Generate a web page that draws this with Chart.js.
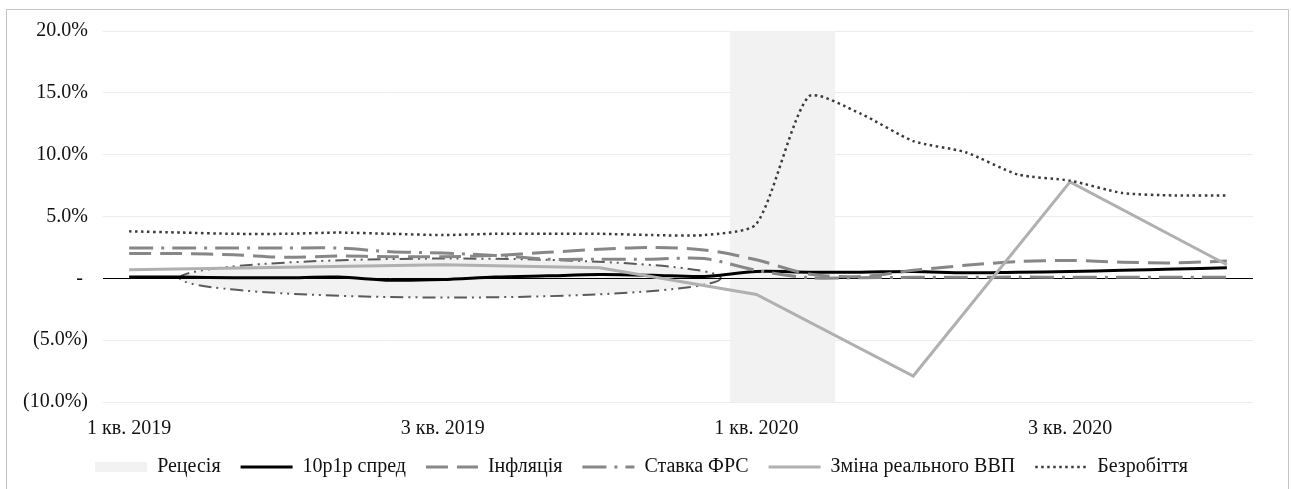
<!DOCTYPE html>
<html>
<head>
<meta charset="utf-8">
<script src="https://cdn.jsdelivr.net/npm/chart.js@4.4.1/dist/chart.umd.min.js"></script>
<style>
  html, body { margin: 0; padding: 0; background: #fff; overflow: hidden; }
  #frame { position: absolute; left: 6px; top: 9px; width: 1283px; height: 520px;
           border: 1px solid #c4c4c4; box-sizing: border-box; }
  #wrap { position: absolute; left: 0; top: 0; width: 1291px; height: 489px; }
</style>
</head>
<body>
<div id="frame"></div>
<div id="wrap"><canvas id="c" width="1291" height="489"></canvas></div>
<script>
// Monthly periods on the horizontal axis
const months = [
  '01.2019', '02.2019', '03.2019', '04.2019', '05.2019', '06.2019',
  '07.2019', '08.2019', '09.2019', '10.2019', '11.2019', '12.2019',
  '01.2020', '02.2020', '03.2020', '04.2020', '05.2020', '06.2020',
  '07.2020', '08.2020', '09.2020', '10.2020'
];
// Axis labels, one every six months
const quarterTicks = ['1 кв. 2019', '3 кв. 2019', '1 кв. 2020', '3 кв. 2020'];

// Series, % values
const spread10y1y = [0.1, 0.1, 0.05, 0.05, 0.1, -0.15, -0.1, 0.1, 0.2, 0.3, 0.25, 0.15,
                     0.55, 0.5, 0.5, 0.55, 0.45, 0.5, 0.55, 0.65, 0.75, 0.85];
const inflation   = [2.0, 2.0, 1.9, 1.7, 1.8, 1.75, 1.75, 1.85, 2.1, 2.35, 2.5, 2.3,
                     1.5, 0.35, 0.15, 0.65, 1.05, 1.35, 1.45, 1.3, 1.25, 1.4];
const fedRate     = [2.45, 2.45, 2.45, 2.45, 2.45, 2.15, 2.05, 1.85, 1.55, 1.55, 1.55, 1.6,
                     0.65, 0.05, 0.05, 0.08, 0.09, 0.1, 0.09, 0.09, 0.09, 0.09];
const unemployment = [3.8, 3.7, 3.6, 3.6, 3.7, 3.6, 3.5, 3.6, 3.6, 3.6, 3.5, 3.5,
                      4.4, 14.7, 13.3, 11.1, 10.2, 8.4, 7.9, 6.9, 6.7, 6.7];
// Real GDP change is quarterly
const gdpMonths = ['01.2019', '04.2019', '07.2019', '10.2019', '01.2020', '04.2020', '07.2020', '10.2020'];
const gdpChange = [0.7, 0.9, 1.1, 0.85, -1.3, -7.9, 7.8, 1.1];
// Recession months (shaded band)
const recessionMonths = ['01.2020', '02.2020'];

// Value axis range
const Y_MIN = -10, Y_MAX = 20, Y_STEP = 5;

// Highlighted yield-curve inversion period (oval outline), in axis units
const inversionOval = { fromIndex: 0.97, toIndex: 11.32, low: -1.55, high: 1.6 };

const FONT = "'Liberation Serif', 'Times New Roman', serif";

const recessionData = months.map(m => recessionMonths.includes(m) ? [Y_MIN, Y_MAX] : null);
const gdpData = months.map(m => {
  const i = gdpMonths.indexOf(m);
  return i >= 0 ? gdpChange[i] : null;
});

function pctLabel(v) {
  if (v === 0) return '- ';
  if (v > 0) return v.toFixed(1) + '%';
  return '(' + Math.abs(v).toFixed(1) + '%)';
}

// Draws the inversion oval and the zero line right after the recession band
const overlayPlugin = {
  id: 'overlay',
  afterLayout(chart) {
    // centre the legend row on the whole frame rather than the padded area
    if (chart.legend) {
      chart.legend.left += 15;
      chart.legend.right += 15;
    }
  },
  afterDatasetDraw(chart, args) {
    if (args.meta.type !== 'bar') return;
    const { ctx, chartArea, scales: { x, y } } = chart;
    ctx.save();
    const x0 = x.getPixelForValue(inversionOval.fromIndex);
    const x1 = x.getPixelForValue(inversionOval.toIndex);
    const yTop = y.getPixelForValue(inversionOval.high);
    const yBot = y.getPixelForValue(inversionOval.low);
    ctx.beginPath();
    ctx.ellipse((x0 + x1) / 2, (yTop + yBot) / 2, (x1 - x0) / 2, (yBot - yTop) / 2, 0, 0, Math.PI * 2);
    ctx.fillStyle = '#f2f2f2';
    ctx.fill();
    ctx.setLineDash([13, 5, 2, 5, 2, 5]);
    ctx.lineWidth = 2;
    ctx.strokeStyle = '#5a5a5a';
    ctx.stroke();
    ctx.setLineDash([]);
    const y0 = Math.round(y.getPixelForValue(0)) + 0.5;
    ctx.beginPath();
    ctx.moveTo(chartArea.left, y0);
    ctx.lineTo(chartArea.right, y0);
    ctx.lineWidth = 1;
    ctx.strokeStyle = '#000';
    ctx.stroke();
    ctx.restore();
  }
};

const lineBase = { type: 'line', pointRadius: 0, fill: false, borderCapStyle: 'butt' };

new Chart(document.getElementById('c'), {
  data: {
    labels: months,
    datasets: [
      { type: 'bar', label: 'Рецесія', data: recessionData, backgroundColor: '#f2f2f2',
        borderWidth: 0, barPercentage: 1, categoryPercentage: 1, order: 10 },
      { ...lineBase, label: '10p1p спред', data: spread10y1y, borderColor: '#000000',
        borderWidth: 3, tension: 0.3, order: 5 },
      { ...lineBase, label: 'Інфляція', data: inflation, borderColor: '#878787',
        borderWidth: 3, borderDash: [22, 9], tension: 0.3, order: 4 },
      { ...lineBase, label: 'Ставка ФРС', data: fedRate, borderColor: '#878787',
        borderWidth: 3, borderDash: [24, 8, 3, 8], tension: 0.3, order: 3 },
      { ...lineBase, label: 'Зміна реального ВВП', data: gdpData, borderColor: '#b0b0b0',
        borderWidth: 3, spanGaps: true, tension: 0, order: 2 },
      { ...lineBase, label: 'Безробіття', data: unemployment, borderColor: '#3a3a3a',
        borderWidth: 2.5, borderDash: [2.5, 3.5], tension: 0.22, order: 1 }
    ]
  },
  options: {
    responsive: false,
    animation: false,
    devicePixelRatio: 1,
    layout: { padding: { top: 31, right: 38, bottom: 2, left: 0 } },
    scales: {
      x: {
        offset: true,
        grid: { display: false },
        border: { display: false },
        ticks: {
          autoSkip: false, maxRotation: 0, padding: 7, color: '#111',
          font: { family: FONT, size: 20 },
          callback: (v, i) => (i % 6 === 0 ? quarterTicks[i / 6] : '')
        },
        afterFit: s => { s.height = 35; }
      },
      y: {
        min: Y_MIN, max: Y_MAX,
        border: { display: false },
        grid: {
          drawTicks: false, lineWidth: 1,
          color: c => (c.tick && c.tick.value === 0 ? 'rgba(0,0,0,0)' : '#ececec')
        },
        ticks: {
          stepSize: Y_STEP, padding: 15, color: '#111',
          font: { family: FONT, size: 20 },
          callback: v => pctLabel(v)
        },
        afterFit: s => { s.width = 103; }
      }
    },
    plugins: {
      tooltip: { enabled: false },
      legend: {
        position: 'bottom',
        labels: {
          usePointStyle: true, pointStyleWidth: 52, boxHeight: 10, padding: 20,
          color: '#111', font: { family: FONT, size: 20 },
          sort: (a, b) => a.datasetIndex - b.datasetIndex,
          generateLabels: chart => Chart.defaults.plugins.legend.labels.generateLabels(chart).map(item => {
            const ds = chart.data.datasets[item.datasetIndex];
            if (ds.type === 'bar') {
              item.pointStyle = 'rect';
              item.lineWidth = 0;
              item.strokeStyle = 'rgba(0,0,0,0)';
              item.fillStyle = ds.backgroundColor;
            } else {
              item.pointStyle = 'line';
              item.strokeStyle = ds.borderColor;
              item.lineWidth = ds.borderWidth;
              item.lineDash = ds.borderDash || [];
            }
            return item;
          })
        }
      }
    }
  },
  plugins: [overlayPlugin]
});
</script>
</body>
</html>
